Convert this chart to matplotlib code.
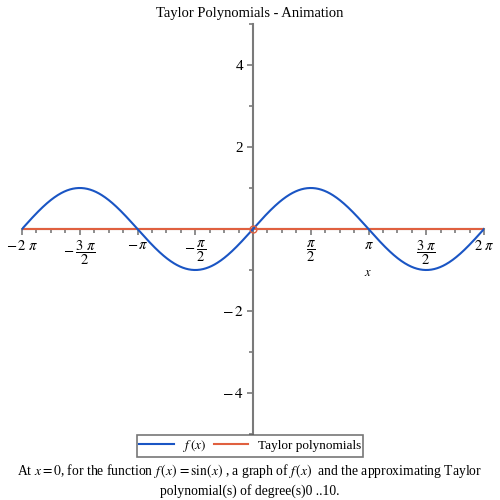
import numpy as np
import matplotlib
matplotlib.use("Agg")
import matplotlib.pyplot as plt
from matplotlib.ticker import FixedLocator

plt.rcParams['font.family'] = ['Liberation Serif', 'DejaVu Serif']
plt.rcParams['mathtext.fontset'] = 'stix'

title = "Taylor Polynomials - Animation"
x_range = (-2 * np.pi, 2 * np.pi)
y_range = (-5, 5)
x_major = [-2 * np.pi, -1.5 * np.pi, -np.pi, -0.5 * np.pi, 0.5 * np.pi, np.pi, 1.5 * np.pi, 2 * np.pi]
x_major_labels = [r'$-\,2\;\pi$', r'$-\;\dfrac{3\;\pi}{2}$', r'$-\,\pi$', r'$-\;\dfrac{\pi}{2}$',
                  r'$\dfrac{\pi}{2}$', r'$\pi$', r'$\dfrac{3\;\pi}{2}$', r'$2\;\pi$']
y_major = [-4, -2, 2, 4]
y_major_labels = [r'$-\,4$', r'$-\,2$', '2', '4']
y_minor = [-5, -3, -1, 1, 3, 5]
taylor_coeffs = [0.0]          # degree-0 Taylor polynomial of sin(x) at x=0
expansion_point = 0.0
caption = ("At $x = 0$, for the function $f\\,(x)\\, = \\mathrm{sin}(x)$ , a graph of $f\\,(x)$  and the approximating Taylor\n"
           "polynomial(s) of degree(s)0 ..10.")

blue = '#1a55c4'
red = '#e0603f'
axis_gray = '#7a7a7a'

fig = plt.figure(figsize=(5, 5), dpi=100)
ax = fig.add_axes([0.044, 0.132, 0.924, 0.82])

xs = np.linspace(x_range[0], x_range[1], 800)
ax.plot(xs, np.sin(xs), color=blue, lw=1.5, label=r'$f\,(x)$', zorder=3)
ty = np.polyval(taylor_coeffs[::-1], xs - expansion_point)
ax.plot(xs, ty, color=red, lw=1.5, label='Taylor polynomials', zorder=2)
ax.plot([expansion_point], [np.sin(expansion_point)], 'o', mfc='none', mec=red, ms=5, mew=1, zorder=4)

ax.set_xlim(*x_range)
ax.set_ylim(*y_range)
ax.spines['left'].set_position(('data', 0))
ax.spines['bottom'].set_position(('data', 0))
ax.spines['top'].set_visible(False)
ax.spines['right'].set_visible(False)
for s in ('left', 'bottom'):
    ax.spines[s].set_color(axis_gray)
    ax.spines[s].set_linewidth(1.5)
    ax.spines[s].set_zorder(1)

ax.xaxis.set_major_locator(FixedLocator(x_major))
ax.set_xticklabels(x_major_labels, fontsize=10.5)
ax.xaxis.set_minor_locator(FixedLocator(np.arange(-16, 17) * np.pi / 8))
ax.yaxis.set_major_locator(FixedLocator(y_major))
ax.set_yticklabels(y_major_labels, fontsize=11)
ax.yaxis.set_minor_locator(FixedLocator(y_minor))
ax.tick_params(axis='both', which='major', direction='out', length=4, width=1.2, color=axis_gray, pad=3)
ax.tick_params(axis='both', which='minor', direction='out', length=3, width=1.2, color=axis_gray)
ax.patch.set_visible(False)

ax.text(0.749, 0.393, '$x$', transform=ax.transAxes, fontsize=9, ha='center', va='center')
fig.text(0.5, 0.974, title, ha='center', va='center', fontsize=10.5)

leg = fig.legend(loc='center', bbox_to_anchor=(0.5, 0.108), ncol=2, frameon=True, fancybox=False,
                 fontsize=9.5, handlelength=2.6, borderpad=0.2, columnspacing=0.6, handletextpad=0.7,
                 borderaxespad=0.0)
leg.get_frame().set_edgecolor('#555555')
leg.get_frame().set_linewidth(1.2)

fig.text(0.5, 0.04, caption, ha='center', va='center', fontsize=9.8, linespacing=1.3)

fig.savefig('out.png', dpi=100)
